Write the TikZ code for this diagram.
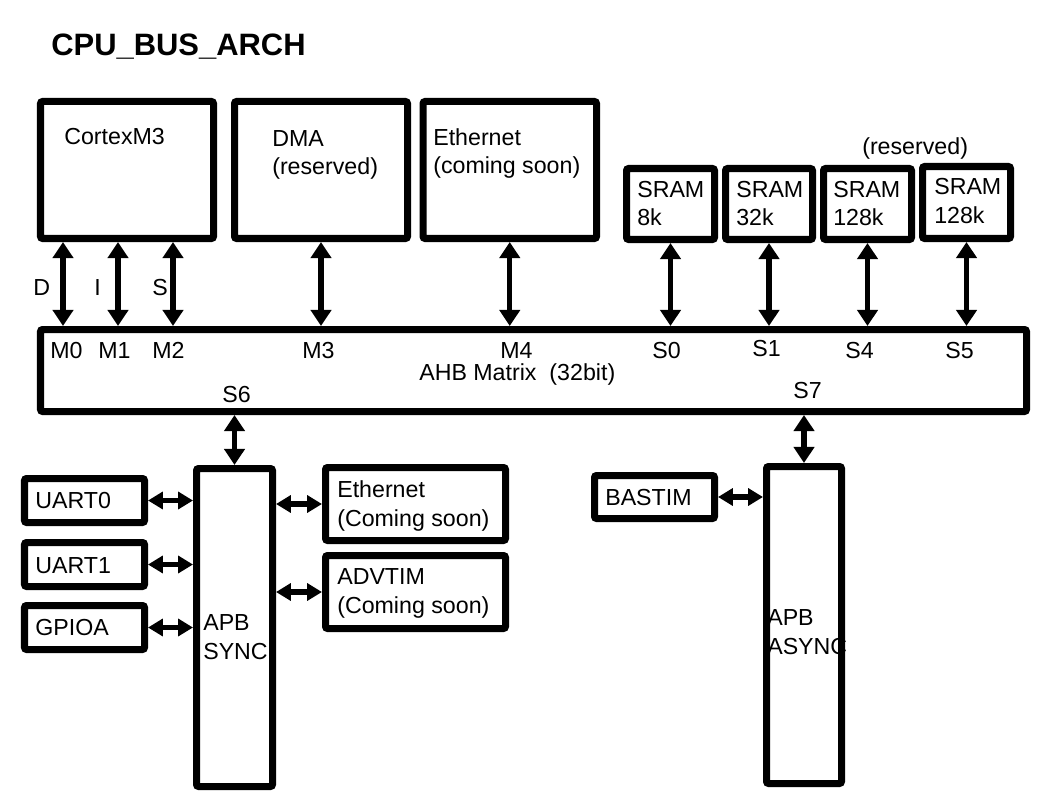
\documentclass[tikz,border=0pt]{standalone}
\usepackage{fontspec}
\setmainfont{Liberation Sans}
\usetikzlibrary{arrows.meta,fit}

\begin{document}
\begin{tikzpicture}[
    x=0.025cm, y=-0.025cm,
    blk/.style={rectangle, draw, line width=0.175cm, rounded corners=1.5pt, inner sep=0pt},
    txt/.style={font=\fontsize{16.5}{20.5}\selectfont, inner sep=0pt, align=left, anchor=base west},
    bus/.style={{Triangle[length=0.4cm,width=0.5cm]}-{Triangle[length=0.4cm,width=0.5cm]}, line width=0.13cm},
    lnk/.style={{Triangle[length=0.37cm,width=0.42cm]}-{Triangle[length=0.37cm,width=0.42cm]}, line width=0.14cm},
  ]
  \useasboundingbox (0,0) rectangle (1058,794);

  \node[txt, font=\fontsize{22}{26}\selectfont\bfseries] (title) at (51,56) {CPU\_BUS\_ARCH};

  % === masters ===
  \node[blk, fit={(40.5,101.5) (213.5,238.5)}] (cpu) {};
  \node[blk, fit={(234.5,101.5) (407.5,238.5)}] (dma) {};
  \node[blk, fit={(423,101.5) (596.5,238.5)}] (eth) {};
  \node[txt] at (64,145) {CortexM3};
  \node[txt] at (272,175) {DMA\\(reserved)};
  \node[txt] at (433,174) {Ethernet\\(coming soon)};

  % === memories ===
  \node[blk, fit={(626.5,168.5) (714.5,239.5)}] (sram0) {};
  \node[blk, fit={(725.5,168.5) (812.5,239.5)}] (sram1) {};
  \node[blk, fit={(823.5,168.5) (911.5,239.5)}] (sram4) {};
  \node[blk, fit={(922.5,166.5) (1010.5,238.5)}] (sram5) {};
  \node[txt] at (637,226) {SRAM\\8k};
  \node[txt] at (736,226) {SRAM\\32k};
  \node[txt] at (833,226) {SRAM\\128k};
  \node[txt] at (934,223) {SRAM\\128k};
  \node[txt] at (862,155) {(reserved)};

  % === AHB matrix ===
  \node[blk, fit={(40.5,329.5) (1026.5,411.5)}] (ahb) {};
  \node[txt] at (50,358) {M0};
  \node[txt] at (98,358) {M1};
  \node[txt] at (152,358) {M2};
  \node[txt] at (302,358) {M3};
  \node[txt] at (500,358) {M4};
  \node[txt] at (419,380) {AHB Matrix\ \ (32bit)};
  \node[txt] at (652,358) {S0};
  \node[txt] at (752,356) {S1};
  \node[txt] at (845,358) {S4};
  \node[txt] at (945,358) {S5};
  \node[txt] at (222,402) {S6};
  \node[txt] at (793,398) {S7};

  \coordinate (pD) at (63,0);
  \coordinate (pI) at (118,0);
  \coordinate (pS) at (173,0);
  \draw[bus] (cpu.south -| pD) -- (ahb.north -| pD);
  \draw[bus] (cpu.south -| pI) -- (ahb.north -| pI);
  \draw[bus] (cpu.south -| pS) -- (ahb.north -| pS);
  \node[txt] at (33,295) {D};
  \node[txt] at (94,295) {I};
  \node[txt] at (152,295) {S};
  \draw[bus] (dma.south) -- (dma.south |- ahb.north);
  \draw[bus] (eth.south) -- (eth.south |- ahb.north);
  \draw[bus] (sram0.south) -- (sram0.south |- ahb.north);
  \draw[bus] (sram1.south) -- (sram1.south |- ahb.north);
  \draw[bus] (sram4.south) -- (sram4.south |- ahb.north);
  \draw[bus] (sram5.south) -- (sram5.south |- ahb.north);

  % === APB sync ===
  \node[blk, fit={(196.5,468.5) (272.5,786.5)}] (apbs) {};
  \node[txt] at (203,659) {APB\\SYNC};
  \node[blk, fit={(24.5,478.5) (144.5,522.5)}] (uart0) {};
  \node[blk, fit={(24.5,542.5) (144.5,586.5)}] (uart1) {};
  \node[blk, fit={(24.5,605.5) (144.5,649.5)}] (gpioa) {};
  \node[blk, fit={(325.5,467.5) (505.5,540.5)}] (ethp) {};
  \node[blk, fit={(325.5,555.5) (505.5,628.5)}] (advtim) {};
  \node[txt] at (35,508) {UART0};
  \node[txt] at (35,573) {UART1};
  \node[txt] at (35,635) {GPIOA};
  \node[txt] at (337,526) {Ethernet\\(Coming soon)};
  \node[txt] at (337,613) {ADVTIM\\(Coming soon)};

  \draw[bus] (ahb.south -| apbs.north) -- (apbs.north);
  \draw[lnk] (uart0.east) -- (uart0.east -| apbs.west);
  \draw[lnk] (uart1.east) -- (uart1.east -| apbs.west);
  \draw[lnk] (gpioa.east) -- (gpioa.east -| apbs.west);
  \draw[lnk] (ethp.west -| apbs.east) -- (ethp.west);
  \draw[lnk] (advtim.west -| apbs.east) -- (advtim.west);

  % === APB async ===
  \node[blk, fit={(766.5,466.5) (841.5,783.5)}] (apba) {};
  \node[txt] at (767,654) {APB\\ASYNC};
  \node[blk, fit={(594.5,475.5) (714.5,518.5)}] (bastim) {};
  \node[txt] at (605,505) {BASTIM};

  \draw[bus] (ahb.south -| apba.north) -- (apba.north);
  \draw[lnk] (bastim.east) -- (bastim.east -| apba.west);

\end{tikzpicture}
\end{document}
